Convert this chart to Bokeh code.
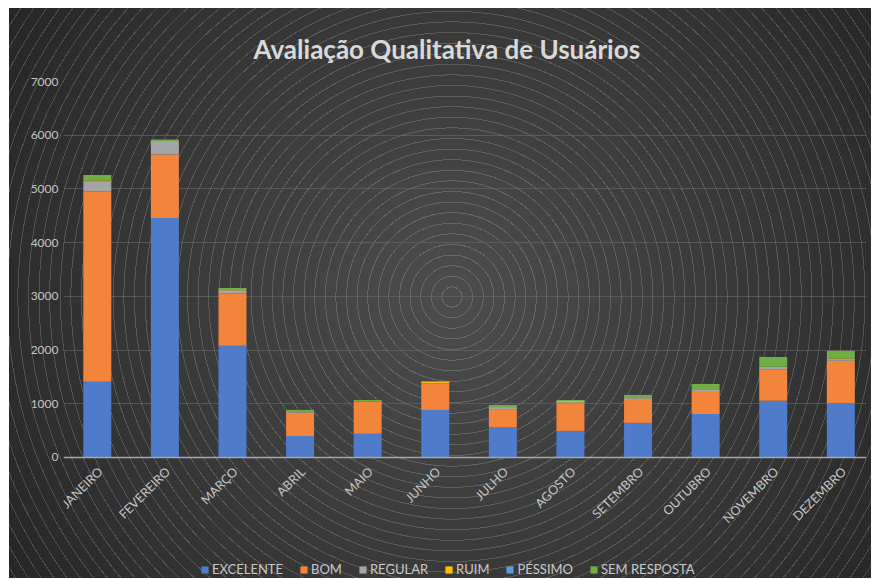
import math
from bokeh.plotting import figure
from bokeh.models import Range1d, FixedTicker, ColumnDataSource, Legend, LegendItem, Span
from bokeh.core.properties import value
from bokeh.embed import file_html
from bokeh.resources import INLINE

# ---------------- data ----------------
months = ["JANEIRO", "FEVEREIRO", "MARÇO", "ABRIL", "MAIO", "JUNHO",
          "JULHO", "AGOSTO", "SETEMBRO", "OUTUBRO", "NOVEMBRO", "DEZEMBRO"]
excelente = [1410, 4460, 2080, 400, 440, 885, 560, 495, 645, 810, 1055, 1015]
bom = [3540, 1180, 975, 435, 595, 495, 340, 510, 447, 410, 590, 785]
regular = [186, 240, 60, 25, 10, 5, 35, 25, 30, 37, 43, 18]
ruim = [20, 10, 5, 0, 0, 30, 5, 20, 0, 0, 0, 25]
pessimo = [0, 0, 0, 0, 0, 0, 0, 0, 0, 0, 0, 0]
sem_resposta = [105, 30, 35, 25, 25, 0, 37, 20, 43, 112, 185, 142]
y_ticks = [0, 1000, 2000, 3000, 4000, 5000, 6000, 7000]

series_keys = ["excelente", "bom", "regular", "ruim", "pessimo", "sem_resposta"]
series_labels = ["EXCELENTE", "BOM", "REGULAR", "RUIM", "PÉSSIMO", "SEM RESPOSTA"]
series_colors = ["#4f7bcb", "#f2843c", "#a5a5a5", "#ffc000", "#5b9bd5", "#70ad47"]
title_text = "Avaliação Qualitativa de Usuários"

x_pos = [i + 0.5 for i in range(len(months))]
source = ColumnDataSource(dict(x=x_pos, month=months, excelente=excelente, bom=bom,
                               regular=regular, ruim=ruim, pessimo=pessimo,
                               sem_resposta=sem_resposta))

W, H = 862, 570
cx, cy = 443, 289
bg = ("repeating-radial-gradient(circle at {cx}px {cy}px, rgba(255,255,255,0) 0px, "
      "rgba(255,255,255,0) 9.6px, rgba(225,225,225,0.2) 9.6px, rgba(225,225,225,0.2) 10.6px), "
      "radial-gradient(circle farthest-corner at {cx}px {cy}px, #4c4c4c 0%, #3c3c3c 45%, #262626 100%)"
      ).format(cx=cx, cy=cy)

# frame spans from the plot top (y=7000 at 73px) down to the figure bottom,
# so the category labels and legend below the zero line stay inside it
p = figure(width=W, height=H, output_backend="svg", toolbar_location=None,
           x_range=Range1d(0, 11.88), y_range=Range1d(-2253, 7000),
           x_axis_location=None,
           min_border_left=54, min_border_right=5, min_border_top=73, min_border_bottom=0,
           styles={"background": bg, "margin-left": "9px", "margin-top": "8px"})
p.background_fill_color = None
p.border_fill_color = None
p.outline_line_color = None

# grid
yt = FixedTicker(ticks=y_ticks)
p.xgrid.visible = False
p.ygrid.ticker = yt
p.ygrid.grid_line_color = "#6a6a6a"
p.ygrid.grid_line_alpha = 0.6
p.ygrid.grid_line_width = 1

renderers = p.vbar_stack(series_keys, x="x", width=0.414, source=source,
                         color=series_colors, line_width=0)

# zero baseline and category labels
p.add_layout(Span(location=0, dimension="width", line_color="#a6a6a6", line_width=1.3))
p.text(x="x", y=0, text="month", source=source, angle=math.pi / 4,
       text_align="right", text_baseline="middle", x_offset=3, y_offset=12,
       text_font=value("Lato"), text_font_size="12.5px", text_color="#c4c4c4")

# title
p.title.text = title_text
p.title.align = "left"
p.title.offset = 190
p.title.standoff = 34
p.title.text_font = "Lato"
p.title.text_font_style = "bold"
p.title.text_font_size = "26px"
p.title.text_color = "#d9d9d9"

# y axis
p.yaxis.ticker = yt
p.yaxis.axis_line_color = None
p.yaxis.major_tick_line_color = None
p.yaxis.minor_tick_line_color = None
p.yaxis.major_tick_out = 0
p.yaxis.major_label_standoff = 5
p.yaxis.major_label_text_font = "Lato"
p.yaxis.major_label_text_font_size = "12px"
p.yaxis.major_label_text_color = "#c4c4c4"

# legend
items = [LegendItem(label=lab, renderers=[r]) for lab, r in zip(series_labels, renderers)]
legend = Legend(items=items, orientation="horizontal", location=(137, 1),
                background_fill_alpha=0, border_line_color=None,
                glyph_width=9, glyph_height=9, label_standoff=3, spacing=16,
                padding=2, margin=0, label_height=16,
                label_text_font="Lato", label_text_font_size="13px", label_text_color="#c8c8c8")
p.add_layout(legend, "center")

open("out.html", "w").write(file_html(p, INLINE))
